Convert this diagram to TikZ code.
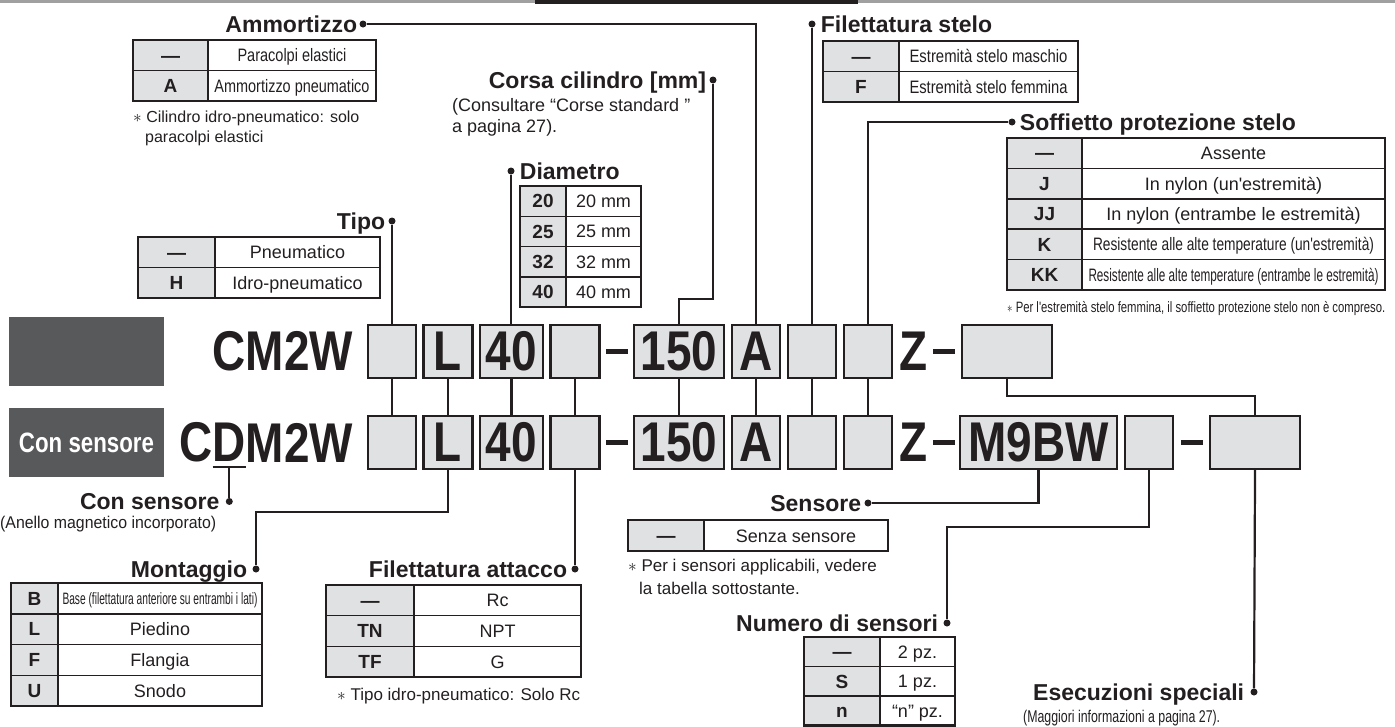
\documentclass[tikz,border=0pt]{standalone}
\usepackage{fontspec}
\setmainfont{Liberation Sans}[Ligatures=TeXOff]
\newfontfamily\codefont[FakeStretch=0.82]{Liberation Sans}
\usetikzlibrary{positioning}
\definecolor{CellGray}{RGB}{224,225,227}
\definecolor{PanelGray}{RGB}{88,89,91}
\definecolor{Ink}{RGB}{35,31,32}
\definecolor{RuleGray}{RGB}{160,160,160}
\newcommand{\nfit}[2]{\resizebox{#1}{\height}{#2}}

\begin{document}
\begin{tikzpicture}[x=1pt,y=-1pt,every node/.style={text=Ink},
code/.style={font=\codefont\bfseries\fontsize{56}{56}\selectfont,inner sep=0pt,outer sep=0pt},
cbox/.style={code,draw=Ink,fill=CellGray,line width=2.2pt,minimum height=53pt},
bar/.style={fill=Ink,minimum width=22pt,minimum height=5pt,inner sep=0pt,outer sep=0pt},
panel/.style={fill=PanelGray,minimum width=155pt,minimum height=69pt,inner sep=0pt},
title/.style={font=\bfseries\fontsize{23}{23}\selectfont,inner sep=0pt,text height=16.5pt,text depth=0.5pt},
pin/.style={circle,fill=Ink,minimum size=7pt,inner sep=0pt},
lead/.style={draw=Ink,line width=2.2pt},
thinlead/.style={draw=Ink,line width=1.5pt},
key/.style={draw=Ink,fill=CellGray,line width=1.5pt,inner sep=0pt,outer sep=0pt,minimum height=30.5pt,text height=13.5pt,text depth=0pt,font=\bfseries\fontsize{19}{19}\selectfont},
val/.style={draw=Ink,line width=1.5pt,inner sep=0pt,outer sep=0pt,minimum height=30.5pt,text height=13pt,text depth=0pt,font=\fontsize{18}{18}\selectfont},
frame/.style={draw=Ink,line width=2.4pt},
note/.style={font=\fontsize{17}{21}\selectfont,inner sep=0pt}]
\useasboundingbox (0,0) rectangle (1395,726);
\fill[RuleGray] (0,0) rectangle (1395,2.5);
\fill[Ink] (535,0) rectangle (858,3.5);

% left panels
\node[panel] (blank) at (86.5,351.5) {};
\node[panel,text=white,font=\bfseries\fontsize{28}{28}\selectfont] (senspanel) at (86.5,442.5) {\nfit{135pt}{Con sensore}};

% row 1
\node[cbox,minimum width=48pt] (r1type) at (392,351.5) {};
\node[cbox,minimum width=49pt,right=7.5pt of r1type] (r1mount) {L};
\node[cbox,minimum width=63pt,right=7.5pt of r1mount] (r1bore) {40};
\node[cbox,minimum width=49pt,right=7.5pt of r1bore] (r1port) {};
\node[bar,right=6pt of r1port] (r1dash1) {};
\node[cbox,minimum width=90pt,right=6.5pt of r1dash1] (r1stroke) {150};
\node[cbox,minimum width=48pt,right=8pt of r1stroke] (r1cush) {A};
\node[cbox,minimum width=48pt,right=8pt of r1cush] (r1rod) {};
\node[cbox,minimum width=48pt,right=8pt of r1rod] (r1boot) {};
\node[code,right=7pt of r1boot] (r1z) {Z};
\node[bar,right=6pt of r1z] (r1dash2) {};
\node[cbox,minimum width=90pt,right=7pt of r1dash2] (r1opt) {};
\node[code,left=15pt of r1type] (r1base) {CM2W};

% row 2
\node[cbox,minimum width=48pt,below=38pt of r1type] (r2type) {};
\node[cbox,minimum width=49pt,below=38pt of r1mount] (r2mount) {L};
\node[cbox,minimum width=63pt,below=38pt of r1bore] (r2bore) {40};
\node[cbox,minimum width=49pt,below=38pt of r1port] (r2port) {};
\node[bar,right=6pt of r2port] (r2dash1) {};
\node[cbox,minimum width=90pt,below=38pt of r1stroke] (r2stroke) {150};
\node[cbox,minimum width=48pt,below=38pt of r1cush] (r2cush) {A};
\node[cbox,minimum width=48pt,below=38pt of r1rod] (r2rod) {};
\node[cbox,minimum width=48pt,below=38pt of r1boot] (r2boot) {};
\node[code,right=7pt of r2boot] (r2z) {Z};
\node[bar,right=6pt of r2z] (r2dash2) {};
\node[cbox,minimum width=157pt,right=5pt of r2dash2] (r2sw) {M9BW};
\node[cbox,minimum width=48pt,right=8pt of r2sw] (r2qty) {};
\node[bar,right=8pt of r2qty] (r2dash3) {};
\node[cbox,minimum width=90pt,right=7pt of r2dash3] (r2opt) {};
\node[code,left=15pt of r2type] (cdM) {M2W};
\node[code,left=0pt of cdM] (cdD) {D};
\node[code,left=0pt of cdD] (cdC) {C};

\foreach \n in {type,mount,bore,port,stroke,cush,rod,boot}
  \draw[lead] (r1\n.south) -- (r2\n.north);
\draw[lead] (r1opt.south) -- ++(0,18) -| (r2opt.north);

% Ammortizzo
\node[pin] (amdot) at (363,24) {};
\node[title,left=2pt of amdot] (amtitle) {Ammortizzo};
\node[key,minimum width=75pt,anchor=north west] (am1k) at (133,40) {—};
\node[val,minimum width=168pt,right=0pt of am1k] (am1v) {\nfit{109pt}{Paracolpi elastici}};
\node[key,minimum width=75pt,below=0pt of am1k] (am2k) {A};
\node[val,minimum width=168pt,right=0pt of am2k] (am2v) {\nfit{155pt}{Ammortizzo pneumatico}};
\draw[frame] (am1k.north west) rectangle (am2v.south east);
\node[note,font=\fontsize{16}{20}\selectfont,anchor=base west] (amnote1) at (133,122) {$\ast$ Cilindro idro-pneumatico: solo};
\node[note,font=\fontsize{16}{20}\selectfont,anchor=base west] (amnote2) at (145,142) {paracolpi elastici};
\draw[thinlead] (amdot) -| (r1cush.north);

% Corsa cilindro
\node[pin] (csdot) at (713,80) {};
\node[title,left=3pt of csdot] (cstitle) {Corsa cilindro [mm]};
\node[note,font=\fontsize{18}{21}\selectfont,anchor=base west] (csnote1) at (452,111) {(Consultare “Corse standard ”};
\node[note,font=\fontsize{18}{21}\selectfont,anchor=base west] (csnote2) at (452,132) {a pagina 27).};
\draw[thinlead] (csdot) |- ([yshift=26pt]r1stroke.north) -- (r1stroke.north);

% Diametro
\node[pin] (dmdot) at (511,171) {};
\node[title,right=5pt of dmdot] (dmtitle) {Diametro};
\node[key,minimum width=46pt,minimum height=30.25pt,anchor=north west] (dm1k) at (520,186) {20};
\node[val,minimum width=75pt,minimum height=30.25pt,right=0pt of dm1k] (dm1v) {20 mm};
\node[key,minimum width=46pt,minimum height=30.25pt,below=0pt of dm1k] (dm2k) {25};
\node[val,minimum width=75pt,minimum height=30.25pt,right=0pt of dm2k] (dm2v) {25 mm};
\node[key,minimum width=46pt,minimum height=30.25pt,below=0pt of dm2k] (dm3k) {32};
\node[val,minimum width=75pt,minimum height=30.25pt,right=0pt of dm3k] (dm3v) {32 mm};
\node[key,minimum width=46pt,minimum height=30.25pt,below=0pt of dm3k] (dm4k) {40};
\node[val,minimum width=75pt,minimum height=30.25pt,right=0pt of dm4k] (dm4v) {40 mm};
\draw[frame] (dm1k.north west) rectangle (dm4v.south east);
\draw[lead] (dmdot) -- (dmdot |- r1bore.north);

% Tipo
\node[pin] (tpdot) at (392,221) {};
\node[title,left=3pt of tpdot] (tptitle) {Tipo};
\node[key,minimum width=77pt,anchor=north west] (tp1k) at (138,237) {—};
\node[val,minimum width=165pt,right=0pt of tp1k] (tp1v) {Pneumatico};
\node[key,minimum width=77pt,below=0pt of tp1k] (tp2k) {H};
\node[val,minimum width=165pt,right=0pt of tp2k] (tp2v) {Idro-pneumatico};
\draw[frame] (tp1k.north west) rectangle (tp2v.south east);
\draw[lead] (tpdot) -- (tpdot |- r1type.north);

% Filettatura stelo
\node[pin] (fsdot) at (812,24) {};
\node[title,right=5pt of fsdot] (fstitle) {Filettatura stelo};
\node[key,minimum width=76pt,anchor=north west] (fs1k) at (823,41) {—};
\node[val,minimum width=179pt,right=0pt of fs1k] (fs1v) {\nfit{158pt}{Estremità stelo maschio}};
\node[key,minimum width=76pt,below=0pt of fs1k] (fs2k) {F};
\node[val,minimum width=179pt,right=0pt of fs2k] (fs2v) {\nfit{158pt}{Estremità stelo femmina}};
\draw[frame] (fs1k.north west) rectangle (fs2v.south east);
\draw[lead] (fsdot) -- (fsdot |- r1rod.north);

% Soffietto protezione stelo
\node[pin] (sfdot) at (1012,122) {};
\node[title,right=4pt of sfdot] (sftitle) {Soffietto protezione stelo};
\node[key,minimum width=75pt,minimum height=30.4pt,anchor=north west] (sf1k) at (1007,138) {—};
\node[val,minimum width=303pt,minimum height=30.4pt,right=0pt of sf1k] (sf1v) {Assente};
\node[key,minimum width=75pt,minimum height=30.4pt,below=0pt of sf1k] (sf2k) {J};
\node[val,minimum width=303pt,minimum height=30.4pt,right=0pt of sf2k] (sf2v) {In nylon (un'estremità)};
\node[key,minimum width=75pt,minimum height=30.4pt,below=0pt of sf2k] (sf3k) {JJ};
\node[val,minimum width=303pt,minimum height=30.4pt,right=0pt of sf3k] (sf3v) {In nylon (entrambe le estremità)};
\node[key,minimum width=75pt,minimum height=30.4pt,below=0pt of sf3k] (sf4k) {K};
\node[val,minimum width=303pt,minimum height=30.4pt,right=0pt of sf4k] (sf4v) {\nfit{281pt}{Resistente alle alte temperature (un'estremità)}};
\node[key,minimum width=75pt,minimum height=30.4pt,below=0pt of sf4k] (sf5k) {KK};
\node[val,minimum width=303pt,minimum height=30.4pt,right=0pt of sf5k] (sf5v) {\nfit{290pt}{Resistente alle alte temperature (entrambe le estremità)}};
\draw[frame] (sf1k.north west) rectangle (sf5v.south east);
\node[note,font=\fontsize{15}{18}\selectfont,anchor=base west] (sfnote) at (1007,312) {\nfit{378pt}{$\ast$ Per l'estremità stelo femmina, il soffietto protezione stelo non è compreso.}};
\draw[thinlead] (sfdot) -| (r1boot.north);

% Con sensore
\draw[lead] ([yshift=-5pt]cdD.base west) -- ([yshift=-5pt]cdD.base east);
\node[pin,below=36pt of cdD.base] (cndot) {};
\node[title,left=6pt of cndot] (cntitle) {Con sensore};
\node[note,anchor=base west] (cnnote) at (0,528) {\nfit{216pt}{(Anello magnetico incorporato)}};
\draw[lead] ([yshift=-5pt]cdD.base) -- (cndot);

% Montaggio
\node[pin] (mtdot) at (256,569) {};
\node[title,left=5pt of mtdot] (mttitle) {Montaggio};
\node[key,minimum width=47pt,minimum height=30.75pt,anchor=north west] (mt1k) at (11,583) {B};
\node[val,minimum width=204pt,minimum height=30.75pt,right=0pt of mt1k] (mt1v) {\fontsize{16.5}{16.5}\selectfont\nfit{195pt}{Base (filettatura anteriore su entrambi i lati)}};
\node[key,minimum width=47pt,minimum height=30.75pt,below=0pt of mt1k] (mt2k) {L};
\node[val,minimum width=204pt,minimum height=30.75pt,right=0pt of mt2k] (mt2v) {Piedino};
\node[key,minimum width=47pt,minimum height=30.75pt,below=0pt of mt2k] (mt3k) {F};
\node[val,minimum width=204pt,minimum height=30.75pt,right=0pt of mt3k] (mt3v) {Flangia};
\node[key,minimum width=47pt,minimum height=30.75pt,below=0pt of mt3k] (mt4k) {U};
\node[val,minimum width=204pt,minimum height=30.75pt,right=0pt of mt4k] (mt4v) {Snodo};
\draw[frame] (mt1k.north west) rectangle (mt4v.south east);
\draw[lead] (r2mount.south) -- ++(0,43) -| (mtdot);

% Filettatura attacco
\node[pin] (ptdot) at (575,569) {};
\node[title,left=4pt of ptdot] (pttitle) {Filettatura attacco};
\node[key,minimum width=88pt,minimum height=30.7pt,anchor=north west] (pt1k) at (326,585) {—};
\node[val,minimum width=167pt,minimum height=30.7pt,right=0pt of pt1k] (pt1v) {Rc};
\node[key,minimum width=88pt,minimum height=30.7pt,below=0pt of pt1k] (pt2k) {TN};
\node[val,minimum width=167pt,minimum height=30.7pt,right=0pt of pt2k] (pt2v) {NPT};
\node[key,minimum width=88pt,minimum height=30.7pt,below=0pt of pt2k] (pt3k) {TF};
\node[val,minimum width=167pt,minimum height=30.7pt,right=0pt of pt3k] (pt3v) {G};
\draw[frame] (pt1k.north west) rectangle (pt3v.south east);
\node[note,anchor=base west] (ptnote) at (337,700) {$\ast$ Tipo idro-pneumatico: Solo Rc};
\draw[lead] (r2port.south) -- (ptdot);

% Sensore
\node[pin] (sndot) at (868,503) {};
\node[title,left=3pt of sndot] (sntitle) {Sensore};
\node[key,minimum width=76pt,minimum height=31pt,anchor=north west] (sn1k) at (628,520) {—};
\node[val,minimum width=184pt,minimum height=31pt,right=0pt of sn1k] (sn1v) {Senza sensore};
\draw[frame] (sn1k.north west) rectangle (sn1v.south east);
\node[note,anchor=base west] (snnote1) at (628,571) {$\ast$ Per i sensori applicabili, vedere};
\node[note,anchor=base west] (snnote2) at (639,594) {la tabella sottostante.};
\draw[lead] (r2sw.south) |- (sndot);

% Numero di sensori
\node[pin] (nsdot) at (947,623) {};
\node[title,left=5pt of nsdot] (nstitle) {Numero di sensori};
\node[key,minimum width=76pt,minimum height=29.5pt,anchor=north west] (ns1k) at (804,637) {—};
\node[val,minimum width=75pt,minimum height=29.5pt,right=0pt of ns1k] (ns1v) {2 pz.};
\node[key,minimum width=76pt,minimum height=29.5pt,below=0pt of ns1k] (ns2k) {S};
\node[val,minimum width=75pt,minimum height=29.5pt,right=0pt of ns2k] (ns2v) {1 pz.};
\node[key,minimum width=76pt,minimum height=29.5pt,below=0pt of ns2k] (ns3k) {n};
\node[val,minimum width=75pt,minimum height=29.5pt,right=0pt of ns3k] (ns3v) {“n” pz.};
\draw[frame] (ns1k.north west) rectangle (ns3v.south east);
\draw[lead] (r2qty.south) -- ++(0,58) -| (nsdot);

% Esecuzioni speciali
\node[pin] (esdot) at (1254,692) {};
\node[title,left=6pt of esdot] (estitle) {Esecuzioni speciali};
\node[note,anchor=base west] (esnote) at (1023,722) {\nfit{197pt}{(Maggiori informazioni a pagina 27).}};
\draw[lead] (r2opt.south) -- (esdot);
\end{tikzpicture}
\end{document}
